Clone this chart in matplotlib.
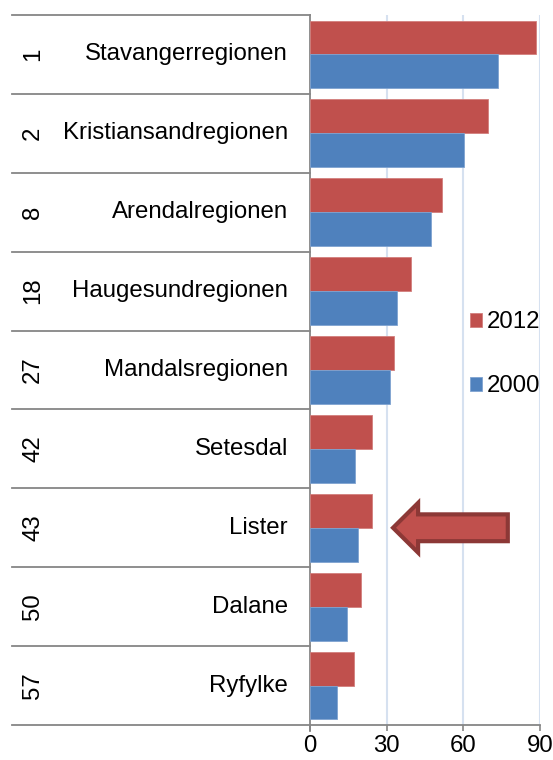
import numpy as np
import matplotlib
matplotlib.use("Agg")
from matplotlib import pyplot as plt
from matplotlib.patches import FancyArrow

plt.rcParams['font.family'] = ['Liberation Sans', 'DejaVu Sans']

# regions, top to bottom
ranks = ['1', '2', '8', '18', '27', '42', '43', '50', '57']
regions = ['Stavangerregionen', 'Kristiansandregionen', 'Arendalregionen',
           'Haugesundregionen', 'Mandalsregionen', 'Setesdal', 'Lister',
           'Dalane', 'Ryfylke']
v2012 = [88.3, 69.8, 51.6, 39.5, 32.9, 24.3, 24.3, 20.0, 17.2]
v2000 = [73.7, 60.2, 47.3, 34.0, 31.3, 17.6, 18.9, 14.6, 10.4]
xticks = [0, 30, 60, 90]

red = '#C0504D'
blue = '#4F81BD'
gray = '#868686'
fs = 17.3

fig = plt.figure(figsize=(5.53, 7.60), dpi=100)
ax = fig.add_axes([310/553, 1-725/760, 230/553, 710/760])

y = np.arange(len(regions))
h = 0.43
ax.barh(y - h/2, v2012, height=h, color=red, edgecolor='#D27F7D', lw=0.6,
        label='2012', zorder=3)
ax.barh(y + h/2, v2000, height=h, color=blue, edgecolor='#7FA3D0', lw=0.6,
        label='2000', zorder=3)

ax.set_ylim(len(regions) - 0.5, -0.5)
ax.set_xlim(0, 90)
ax.set_xticks(xticks)
ax.set_xticklabels([str(t) for t in xticks], fontsize=fs)
ax.tick_params(axis='x', direction='out', length=4.5, width=1.2, color=gray, pad=2.5)
ax.set_yticks([])
for s in ['top', 'right']:
    ax.spines[s].set_visible(False)
for s in ['left', 'bottom']:
    ax.spines[s].set_color(gray)
    ax.spines[s].set_linewidth(1.3)
ax.spines['left'].set_bounds(len(regions) - 0.5 + 0.08, -0.5)

for t in xticks[1:]:
    ax.axvline(t, color='#D6E1F0', lw=1.5, zorder=1)

# table-like category labels on the left
tr = ax.get_yaxis_transform()
for b in np.arange(-0.5, len(regions)):
    ax.plot([-1.296, 0], [b, b], color=gray, lw=1.3, transform=tr, clip_on=False)
for i in range(len(regions)):
    ax.text(-1.204, i, ranks[i], rotation=90, ha='center', va='center',
            fontsize=fs, transform=tr)
    ax.text(-0.096, i, regions[i], ha='right', va='center', fontsize=fs, transform=tr)

# arrow pointing at Lister
li = regions.index('Lister')
arr = FancyArrow(77.4, li, -44.9, 0, width=0.34, head_width=0.63, head_length=9.8,
                 length_includes_head=True, facecolor=red, edgecolor='#8C3836',
                 lw=3, zorder=4)
ax.add_patch(arr)

ax.legend(loc='center left', bbox_to_anchor=(0.696, 0.522), frameon=False,
          fontsize=fs, handlelength=0.5, handleheight=0.5, handletextpad=0.2,
          labelspacing=1.75, borderpad=0, borderaxespad=0)

fig.savefig('out.png', dpi=100)
